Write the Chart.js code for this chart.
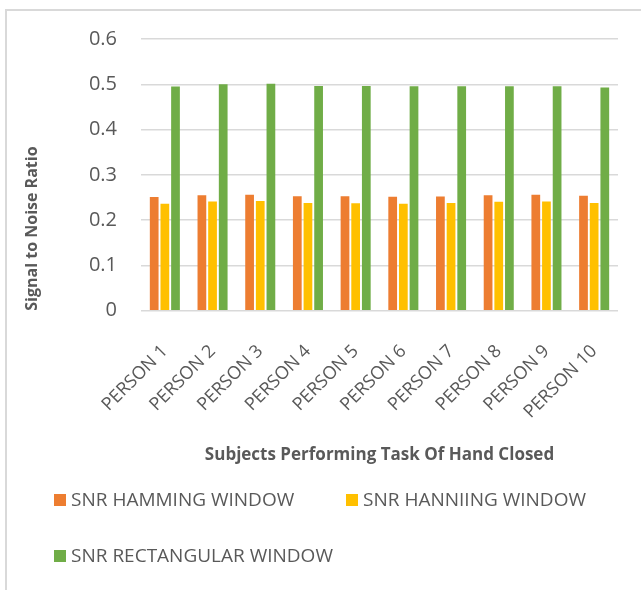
<!DOCTYPE html>
<html>
<head>
<meta charset="utf-8">
<title>Signal to Noise Ratio – Hand Closed</title>
<script src="https://cdn.jsdelivr.net/npm/chart.js@4/dist/chart.umd.min.js"></script>
<style>
  html, body { margin: 0; padding: 0; background: #ffffff; }
  #wrap { position: relative; width: 641px; height: 590px; overflow: hidden; }
  #frame {
    position: absolute; left: 5px; top: 9px; width: 700px; height: 700px;
    border-left: 2px solid #d9d9d9; border-top: 2px solid #d9d9d9;
    pointer-events: none;
  }
</style>
</head>
<body>
<div id="wrap">
  <canvas id="snrChart" width="641" height="590"></canvas>
  <div id="frame"></div>
</div>
<script>
// Subjects on the category axis
const categories = ['PERSON 1', 'PERSON 2', 'PERSON 3', 'PERSON 4', 'PERSON 5',
                    'PERSON 6', 'PERSON 7', 'PERSON 8', 'PERSON 9', 'PERSON 10'];

// SNR per window function
const hammingSNR     = [0.251, 0.255, 0.256, 0.253, 0.253, 0.2515, 0.252, 0.255, 0.256, 0.254];
const hanningSNR     = [0.236, 0.241, 0.242, 0.238, 0.2375, 0.236, 0.238, 0.2405, 0.241, 0.238];
const rectangularSNR = [0.495, 0.500, 0.501, 0.496, 0.496, 0.4955, 0.4955, 0.4955, 0.4955, 0.493];

const seriesNames = ['SNR HAMMING WINDOW', 'SNR HANNIING WINDOW', 'SNR RECTANGULAR WINDOW'];
const seriesColors = ['#ED7D31', '#FFC000', '#70AD47'];

// Value axis
const yMin = 0;
const yMax = 0.6;
const yStep = 0.1;

const textGray = '#595959';
const gridGray = '#d9d9d9';
const baseFont = "'Open Sans', 'Liberation Sans', sans-serif";

// Legend laid out in two rows below the axis title
const legendSlots = [
  { x: 54,  y: 500 },
  { x: 346, y: 500 },
  { x: 54,  y: 556 }
];

const windowLegend = {
  id: 'windowLegend',
  afterDraw(chart) {
    const ctx = chart.ctx;
    ctx.save();
    ctx.font = '19px ' + baseFont;
    ctx.textBaseline = 'middle';
    ctx.textAlign = 'left';
    chart.data.datasets.forEach((ds, i) => {
      const slot = legendSlots[i];
      ctx.fillStyle = ds.backgroundColor;
      ctx.fillRect(slot.x, slot.y - 6, 12, 12);
      ctx.fillStyle = textGray;
      ctx.fillText(ds.label, slot.x + 17, slot.y + 1);
    });
    ctx.restore();
  }
};

new Chart(document.getElementById('snrChart'), {
  type: 'bar',
  data: {
    labels: categories,
    datasets: [
      { label: seriesNames[0], data: hammingSNR,     backgroundColor: seriesColors[0] },
      { label: seriesNames[1], data: hanningSNR,     backgroundColor: seriesColors[1] },
      { label: seriesNames[2], data: rectangularSNR, backgroundColor: seriesColors[2] }
    ]
  },
  options: {
    responsive: false,
    animation: false,
    devicePixelRatio: 1,
    layout: { padding: { left: 0, top: 39, right: 23, bottom: 115 } },
    datasets: {
      bar: { categoryPercentage: 0.67, barPercentage: 0.82, borderWidth: 0 }
    },
    plugins: {
      legend: { display: false },
      tooltip: { enabled: false }
    },
    scales: {
      x: {
        grid: { display: false, drawTicks: false },
        border: { display: false },
        ticks: {
          color: textGray,
          font: { family: baseFont, size: 18 },
          minRotation: 45,
          maxRotation: 45,
          padding: 30,
          autoSkip: false
        },
        title: {
          display: true,
          text: 'Subjects Performing Task Of Hand Closed',
          color: textGray,
          font: { family: baseFont, size: 17, weight: 'bold' },
          padding: { top: 0, bottom: 10 }
        },
        afterFit(scale) { scale.height = 164.3; }
      },
      y: {
        min: yMin,
        max: yMax,
        grid: { color: gridGray, lineWidth: 1.5, drawTicks: false },
        border: { display: false },
        ticks: {
          stepSize: yStep,
          color: textGray,
          font: { family: baseFont, size: 20 },
          padding: 24,
          callback: (v) => String(Number(v.toFixed(1)))
        },
        title: {
          display: true,
          text: 'Signal to Noise Ratio',
          align: 'start',
          color: textGray,
          font: { family: baseFont, size: 16, weight: 'bold' },
          padding: { top: 23, bottom: 0 }
        },
        afterFit(scale) { scale.width = 141; }
      }
    }
  },
  plugins: [windowLegend]
});
</script>
</body>
</html>
